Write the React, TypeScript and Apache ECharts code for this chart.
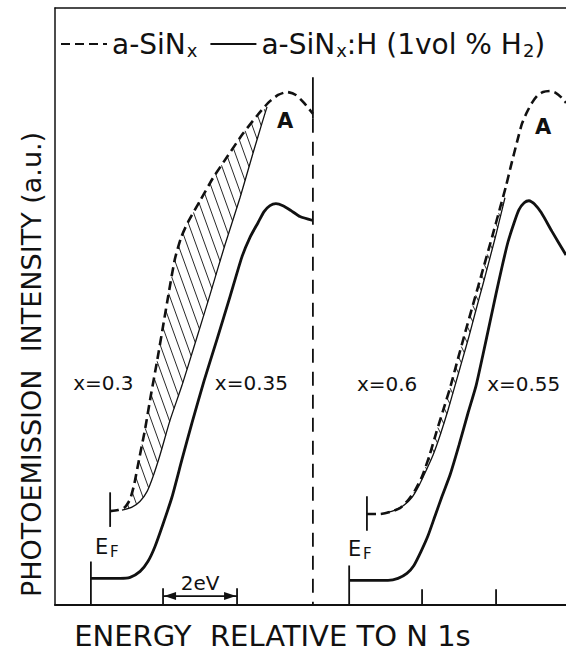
import React, { useEffect, useRef } from 'react';
import * as echarts from 'echarts';

const FONT = '"DejaVu Sans", "Liberation Sans", sans-serif';
const INK = '#111';

// ---------- data: energy (eV, relative scale) and photoemission intensity (a.u.) ----------
// left panel: a-SiNx x=0.3 (dashed) and a-SiNx:H x=0.35 (solid)
const leftDashedE = [1.49, 1.70, 1.89, 2.03, 2.14, 2.27, 2.43, 2.59, 2.76, 2.92, 3.08, 3.24, 3.41, 3.59, 3.92, 4.27, 4.68, 5.08, 5.46, 5.76, 6.03, 6.27, 6.51, 6.73, 6.97];
const leftDashedI = [9.5, 9.6, 9.9, 10.7, 12.2, 14.7, 17.7, 21.2, 24.7, 28.2, 31.7, 35.0, 37.2, 38.7, 40.9, 43.2, 45.5, 47.7, 49.5, 50.8, 51.6, 51.9, 51.6, 50.8, 49.7];
const leftSolidE = [0.97, 1.76, 2.03, 2.30, 2.51, 2.70, 2.92, 3.16, 3.43, 3.70, 4.03, 4.38, 4.73, 5.05, 5.27, 5.49, 5.65, 5.81, 5.97, 6.16, 6.38, 6.62, 6.97];
const leftSolidI = [2.7, 2.7, 2.8, 3.4, 4.4, 5.9, 8.2, 10.9, 14.7, 18.4, 22.7, 26.9, 31.2, 35.2, 37.2, 38.7, 39.8, 40.4, 40.6, 40.4, 39.9, 39.3, 38.9];
// solid curve shifted onto the dashed one (lower bound of the hatched difference)
const leftShiftE = [1.81, 2.08, 2.30, 2.49, 2.65, 2.84, 3.11, 3.43, 3.78, 4.19, 4.59, 5.00, 5.35, 5.59, 5.73];
const leftShiftI = [9.6, 9.9, 10.5, 11.5, 13.0, 15.2, 18.7, 22.2, 26.4, 31.4, 36.4, 41.2, 45.7, 48.7, 50.4];

// right panel: a-SiNx x=0.6 (dashed) and a-SiNx:H x=0.55 (solid)
const rightDashedE = [8.43, 8.78, 9.05, 9.32, 9.54, 9.73, 9.92, 10.11, 10.30, 10.49, 10.68, 10.86, 11.08, 11.32, 11.57, 11.81, 12.03, 12.19, 12.32, 12.49, 12.62, 12.76, 12.89, 13.03, 13.19, 13.38, 13.54, 13.70, 13.81];
const rightDashedI = [9.2, 9.2, 9.4, 9.8, 10.6, 11.6, 13.0, 15.0, 17.4, 19.7, 22.0, 24.5, 27.5, 30.7, 34.0, 37.2, 40.2, 42.4, 44.4, 46.9, 48.7, 49.9, 50.8, 51.5, 51.9, 52.0, 51.8, 51.3, 50.8];
const rightSolidE = [7.95, 9.00, 9.27, 9.51, 9.70, 9.89, 10.08, 10.27, 10.46, 10.68, 10.92, 11.16, 11.38, 11.57, 11.76, 11.92, 12.08, 12.24, 12.41, 12.54, 12.68, 12.81, 12.95, 13.14, 13.43, 13.81];
const rightSolidI = [2.5, 2.5, 2.7, 3.2, 4.0, 5.4, 7.0, 9.0, 11.0, 13.2, 16.2, 19.4, 22.2, 25.4, 28.7, 31.5, 34.2, 36.7, 38.7, 40.0, 40.7, 40.9, 40.6, 39.7, 37.8, 35.4];
const rightShiftE = [8.92, 9.19, 9.43, 9.65, 9.84, 10.03, 10.22, 10.41, 10.62, 10.81, 11.00, 11.19, 11.38, 11.57, 11.76, 11.92, 12.05, 12.16];
const rightShiftI = [9.3, 9.6, 10.1, 10.9, 12.1, 13.6, 15.2, 17.2, 19.7, 22.2, 24.7, 27.2, 29.9, 32.5, 35.2, 37.5, 39.5, 41.2];

// Fermi levels, panel divider and energy ticks (eV)
const fermiSolidE = [0.97, 7.95];
const fermiSolidTop = [4.4, 4.0];
const fermiDashedE = [1.49, 8.43];
const fermiDashedSpan = [[7.9, 11.4], [7.5, 11.0]];
const dividerE = 6.97;
const dividerSolidSpan = [49.2, 53.4];
const energyTicksE = [9.92, 11.92];
const scaleBarE = [2.92, 4.92]; // 2 eV

const sampleLabels = ['x=0.3', 'x=0.35', 'x=0.6', 'x=0.55'];
const peakLabel = 'A';

const X_MAX = 13.81;
const Y_MAX = 60.4;

const zip = (e: number[], i: number[]) => e.map((x, k) => [x, i[k]]);

function makeHatch(upper: number[][], lower: number[][], slope: number, step: number) {
  return (_params: any, api: any) => {
    const U = upper.map((p) => api.coord(p));
    const L = lower.map((p) => api.coord(p));
    const f = (p: number[]) => p[0] - slope * p[1];
    const cross = (P: number[][], c: number) => {
      for (let i = 0; i < P.length - 1; i++) {
        const a = f(P[i]) - c;
        const b = f(P[i + 1]) - c;
        if (a === 0) return P[i];
        if (a * b < 0) {
          const t = a / (a - b);
          return [P[i][0] + t * (P[i + 1][0] - P[i][0]), P[i][1] + t * (P[i + 1][1] - P[i][1])];
        }
      }
      return null;
    };
    const fs = L.map(f);
    const lo = Math.min(...fs);
    const hi = Math.max(...fs);
    const children: any[] = [];
    for (let c = Math.ceil(lo / step) * step; c <= hi; c += step) {
      const a = cross(U, c);
      const b = cross(L, c);
      if (a && b) {
        children.push({
          type: 'line',
          shape: { x1: a[0], y1: a[1], x2: b[0], y2: b[1] },
          style: { stroke: INK, lineWidth: 0.9 },
        });
      }
    }
    return { type: 'group', children };
  };
}

export default function App() {
  const ref = useRef<HTMLDivElement>(null);

  useEffect(() => {
    if (!ref.current) return;
    const chart = echarts.init(ref.current, null, { renderer: 'svg' });

    const leftDashed = zip(leftDashedE, leftDashedI);
    const leftSolid = zip(leftSolidE, leftSolidI);
    const leftShift = zip(leftShiftE, leftShiftI);
    const rightDashed = zip(rightDashedE, rightDashedI);
    const rightSolid = zip(rightSolidE, rightSolidI);
    const rightShift = zip(rightShiftE, rightShiftI);

    const leftEnd = leftShift[leftShift.length - 1];
    const leftUpper = leftDashed.filter((p) => p[0] < leftEnd[0]).concat([leftEnd]);
    const rightEnd = rightShift[rightShift.length - 1];
    const rightUpper = rightDashed.filter((p) => p[0] < rightEnd[0]).concat([rightEnd]);

    const dashedName = 'a-SiNx';
    const solidName = 'a-SiNx:H (1vol % H2)';

    const dashedStyle = { color: INK, width: 2.6, type: [9, 5] as any };
    const solidStyle = { color: INK, width: 2.8 };
    const thinStyle = { color: INK, width: 1.3 };

    const lineBase = {
      type: 'line',
      symbol: 'none',
      smooth: 0.2,
      silent: true,
      z: 3,
      color: INK,
      itemStyle: { color: INK },
    };

    const annotations = (_p: any, api: any) => {
      const c = (x: number, y: number) => api.coord([x, y]);
      const seg = (p: number[], q: number[], w: number, dash?: number[]) => ({
        type: 'line',
        shape: { x1: p[0], y1: p[1], x2: q[0], y2: q[1] },
        style: { stroke: INK, lineWidth: w, lineDash: dash || null },
      });
      const kids: any[] = [];
      fermiSolidE.forEach((e, k) => kids.push(seg(c(e, 0), c(e, fermiSolidTop[k]), 1.8)));
      fermiDashedE.forEach((e, k) => {
        const s = fermiDashedSpan[k];
        kids.push(seg(c(e, s[0]), c(e, s[1]), 1.8));
      });
      energyTicksE.forEach((e) => kids.push(seg(c(e, 0), c(e, 1.6), 1.8)));
      scaleBarE.forEach((e) => kids.push(seg(c(e, 0), c(e, 1.7), 1.8)));
      // 2 eV arrow
      const a0 = c(scaleBarE[0], 0.9);
      const a1 = c(scaleBarE[1], 0.9);
      kids.push(seg(a0, a1, 1.6));
      kids.push({ type: 'polygon', shape: { points: [[a0[0] + 1, a0[1]], [a0[0] + 13, a0[1] - 4], [a0[0] + 13, a0[1] + 4]] }, style: { fill: INK } });
      kids.push({ type: 'polygon', shape: { points: [[a1[0] - 1, a1[1]], [a1[0] - 13, a1[1] - 4], [a1[0] - 13, a1[1] + 4]] }, style: { fill: INK } });
      // panel divider
      kids.push(seg(c(dividerE, dividerSolidSpan[1]), c(dividerE, dividerSolidSpan[0]), 1.8));
      kids.push(seg(c(dividerE, dividerSolidSpan[0]), c(dividerE, 0), 1.8, [14, 9]));
      return { type: 'group', children: kids };
    };

    const txt = (p: number[], text: string, size: number, align: string, weight = 'normal') => ({
      type: 'text',
      x: p[0],
      y: p[1],
      style: { text, fontSize: size, fontFamily: FONT, fontWeight: weight, fill: INK, align, verticalAlign: 'middle' },
    });

    const labels = (_p: any, api: any) => {
      const c = (x: number, y: number) => api.coord([x, y]);
      const kids: any[] = [];
      const at = [[0.49, 22.5], [4.32, 22.5], [8.16, 22.4], [11.68, 22.4]];
      sampleLabels.forEach((t, k) => kids.push(txt(c(at[k][0], at[k][1]), t, 20, 'left')));
      kids.push(txt(c(6.22, 49.0), peakLabel, 21, 'center', 'bold'));
      kids.push(txt(c(13.19, 48.4), peakLabel, 21, 'center', 'bold'));
      // E_F labels
      const ef = [[1.08, 5.9], [7.92, 5.7]];
      ef.forEach((p) => {
        const q = c(p[0], p[1]);
        kids.push(txt(q, 'E', 21, 'left'));
        kids.push(txt([q[0] + 15, q[1] + 5], 'F', 15, 'left'));
      });
      kids.push(txt(c((scaleBarE[0] + scaleBarE[1]) / 2, 2.2), '2eV', 20, 'center'));
      return { type: 'group', children: kids };
    };

    const option: any = {
      animation: false,
      backgroundColor: '#fff',
      color: [INK],
      grid: { left: 55, right: 0, top: 8, bottom: 43, containLabel: false },
      legend: {
        data: [dashedName, solidName],
        left: 60,
        top: 30,
        padding: 0,
        itemWidth: 46,
        itemHeight: 14,
        itemGap: 12,
        selectedMode: false,
        itemStyle: { opacity: 0 },
        formatter: (name: string) =>
          name === dashedName ? '{t|a-SiN}{s|x}' : '{t|a-SiN}{s|x}{t|:H (1vol % H}{s|2}{t|)}',
        textStyle: {
          color: INK,
          fontFamily: FONT,
          rich: {
            t: { fontSize: 28, fontFamily: FONT, color: INK },
            s: { fontSize: 18, fontFamily: FONT, color: INK, padding: [13, 0, 0, 1] },
          },
        },
      },
      xAxis: [
        {
          type: 'value',
          min: 0,
          max: X_MAX,
          position: 'bottom',
          axisLine: { show: true, lineStyle: { color: INK, width: 2 } },
          axisTick: { show: false },
          axisLabel: { show: false },
          splitLine: { show: false },
          name: 'ENERGY  RELATIVE TO N 1s',
          nameLocation: 'middle',
          nameGap: 16,
          nameTextStyle: { fontSize: 29, fontFamily: FONT, color: INK, padding: [0, 76, 0, 0] },
        },
        {
          type: 'value',
          min: 0,
          max: X_MAX,
          position: 'top',
          axisLine: { show: true, lineStyle: { color: INK, width: 1.5 } },
          axisTick: { show: false },
          axisLabel: { show: false },
          splitLine: { show: false },
        },
      ],
      yAxis: {
        type: 'value',
        min: 0,
        max: Y_MAX,
        axisLine: { show: true, lineStyle: { color: INK, width: 1.5 } },
        axisTick: { show: false },
        axisLabel: { show: false },
        splitLine: { show: false },
        name: 'PHOTOEMISSION  INTENSITY (a.u.)',
        nameLocation: 'middle',
        nameGap: 10,
        nameRotate: 90,
        nameTextStyle: { fontSize: 27, fontFamily: FONT, color: INK, padding: [0, 116, 0, 0] },
      },
      series: [
        { ...lineBase, name: dashedName, data: leftDashed, lineStyle: dashedStyle },
        { ...lineBase, name: dashedName, data: rightDashed, lineStyle: dashedStyle },
        { ...lineBase, name: solidName, data: leftSolid, lineStyle: solidStyle },
        { ...lineBase, name: solidName, data: rightSolid, lineStyle: solidStyle },
        { ...lineBase, name: 'shifted (left)', data: leftShift, lineStyle: thinStyle },
        { ...lineBase, name: 'shifted (right)', data: rightShift, lineStyle: thinStyle },
        { type: 'custom', name: 'difference (left)', silent: true, data: [[0, 0]], renderItem: makeHatch(leftUpper, leftShift, 0.36, 9), z: 2 },
        { type: 'custom', name: 'difference (right)', silent: true, data: [[0, 0]], renderItem: makeHatch(rightUpper, rightShift, 0.5, 8), z: 2 },
        { type: 'custom', name: 'marks', silent: true, data: [[0, 0]], renderItem: annotations, z: 4 },
        { type: 'custom', name: 'labels', silent: true, data: [[0, 0]], renderItem: labels, z: 5 },
      ],
    };

    chart.setOption(option);
    return () => chart.dispose();
  }, []);

  return (
    <div
      ref={ref}
      style={{ position: 'fixed', left: 0, top: 0, width: 566, height: 655, background: '#fff' }}
    />
  );
}
